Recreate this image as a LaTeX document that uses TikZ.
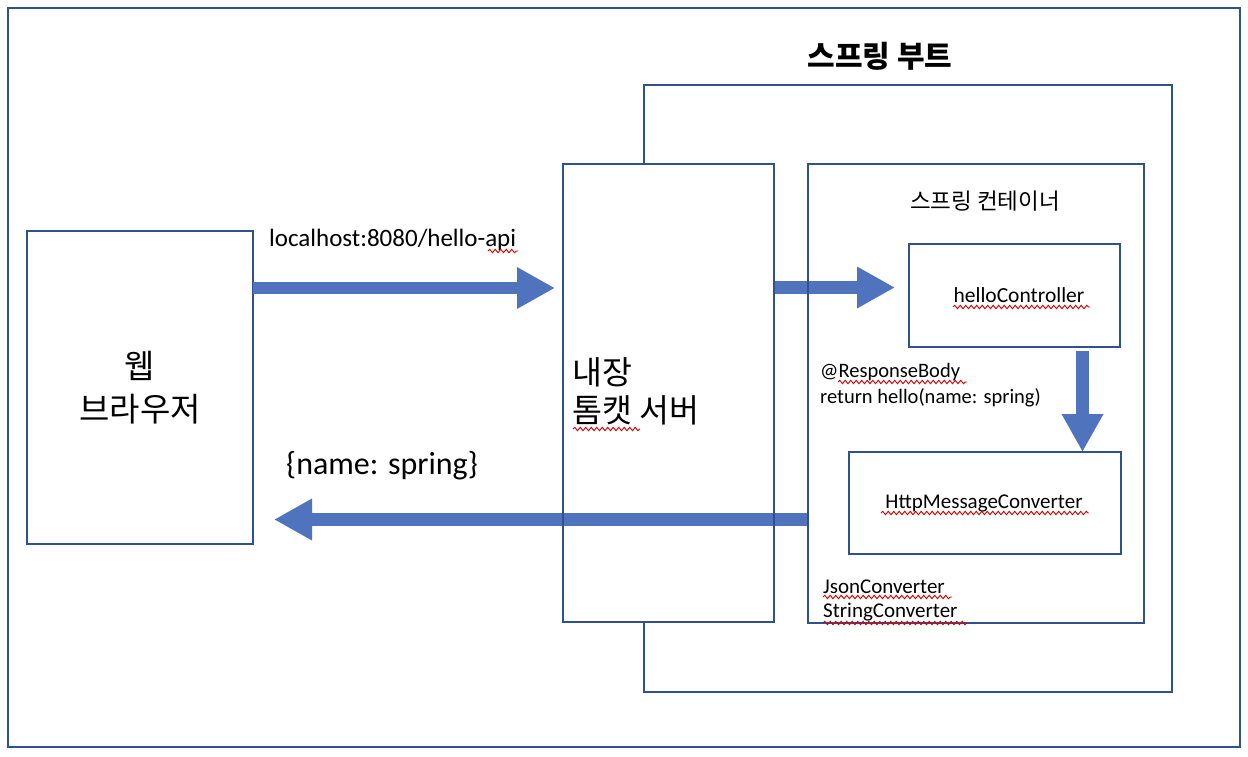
\documentclass[tikz,border=0pt]{standalone}
\usepackage{fontspec}
\setmainfont{Carlito}
\newfontfamily\kr{Noto Sans CJK KR}
\usetikzlibrary{arrows.meta,decorations.pathmorphing}
\definecolor{edgeblue}{RGB}{47,82,143}
\definecolor{arrowblue}{RGB}{80,115,190}
\tikzset{
  boxline/.style={draw=edgeblue, line width=2pt, inner sep=0pt, outer sep=0pt},
  bigarrow/.style={draw=arrowblue, line width=12.5pt, -{Triangle[length=38pt,width=39pt]}},
  lbl/.style={inner sep=0pt, text=black},
  squig/.style={draw=red!85!black, line width=0.9pt, decorate, decoration={snake, segment length=5.5pt, amplitude=1.7pt}},
}
\begin{document}
\begin{tikzpicture}[x=1pt,y=-1pt]
\useasboundingbox (0,0) rectangle (1248,756);
\fill[white] (0,0) rectangle (1248,756);
% outer frame
\node[boxline, minimum width=1232, minimum height=739] (frame) at (624,377.5) {};
% spring boot
\node[boxline, minimum width=528, minimum height=607] (boot) at (908,388.5) {};
\node[lbl, font=\kr\bfseries\fontsize{30}{34}\selectfont] (boottitle) at (880,56) {스프링 부트};
% tomcat fill (hides boot edge)
\node[boxline, fill=white, minimum width=211, minimum height=458] (tomcat) at (668.5,393) {};
% browser
\node[boxline, minimum width=226, minimum height=313, align=center, font=\kr\fontsize{33}{43}\selectfont] (browser) at (140,387.5) {웹\\브라우저};
% container
\node[boxline, minimum width=336, minimum height=459] (container) at (976,393.5) {};
\node[lbl, font=\kr\fontsize{22.5}{26}\selectfont] (ctitle) at (985,201) {스프링 컨테이너};
% hello controller
\node[boxline, minimum width=211, minimum height=103] (hello) at (1014.5,295.5) {};
\node[lbl, font=\fontsize{21.5}{24}\selectfont] (hellotxt) at (1019,295) {helloController};
% converter
\node[boxline, minimum width=272, minimum height=102] (conv) at (985,503) {};
\node[lbl, font=\fontsize{21}{24}\selectfont] (convtxt) at (984,503) {HttpMessageConverter};
% coordinates for arrows
\coordinate (a1s) at (browser.east |- 0,288);
\coordinate (a1e) at (555,288);
\coordinate (a2s) at (tomcat.east |- 0,287.5);
\coordinate (a2e) at (895,287.5);
\coordinate (a3s) at (1082.5,351);
\coordinate (a3e) at (conv.north -| a3s);
\coordinate (a4s) at (container.west |- 0,519.5);
\coordinate (a4e) at (274,519.5);
\draw[bigarrow] (a1s) -- (a1e);
\draw[bigarrow] (a2s) -- (a2e);
\draw[bigarrow] (a3s) -- (a3e);
\draw[bigarrow] (a4s) -- (a4e);
% redraw outlines above arrows
\draw[draw=edgeblue, line width=2pt] (tomcat.south west) rectangle (tomcat.north east);
\draw[draw=edgeblue, line width=2pt] (container.south west) rectangle (container.north east);
% tomcat text
\node[lbl, anchor=west, font=\kr\fontsize{32.5}{38}\selectfont] (tc1) at (572,372) {내장};
\node[lbl, anchor=west, font=\kr\fontsize{32.5}{38}\selectfont] (tc2) at (572,410) {톰캣 서버};
% labels
\node[lbl, anchor=west, font=\fontsize{25}{28}\selectfont] (url) at (269,240) {localhost:8080/hello-api};
\node[lbl, anchor=west, font=\fontsize{32}{36}\selectfont] (resp) at (286,466) {\{name: spring\}};
\node[lbl, anchor=west, font=\fontsize{20.5}{26}\selectfont] (rb1) at (820,372) {@ResponseBody};
\node[lbl, anchor=west, font=\fontsize{20.5}{26}\selectfont] (rb2) at (820,398) {return hello(name: spring)};
\node[lbl, anchor=west, font=\fontsize{21}{25}\selectfont] (jc) at (823,587) {JsonConverter};
\node[lbl, anchor=west, font=\fontsize{21}{25}\selectfont] (sc) at (823,612) {StringConverter};
% spell-check squiggles
\draw[squig] (488,251) -- (518,251);
\draw[squig] (573,429) -- (640,429);
\draw[squig] (953,307) -- (1090,307);
\draw[squig] (838,382) -- (967,382);
\draw[squig] (881,513) -- (1089,513);
\draw[squig] (823,597) -- (952,597);
\draw[squig] (823,623) -- (967,623);
\end{tikzpicture}
\end{document}
